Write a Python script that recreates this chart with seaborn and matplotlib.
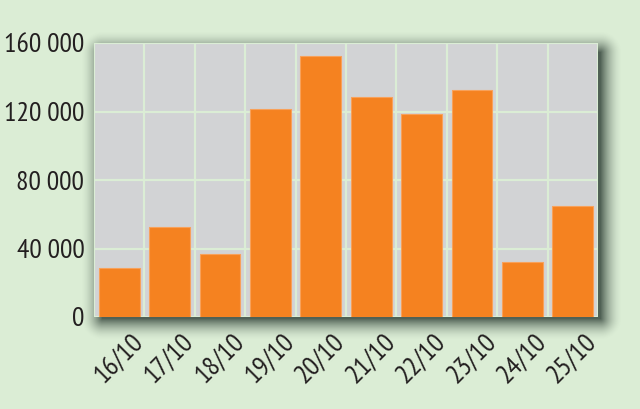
import numpy as np
import pandas as pd
import matplotlib
matplotlib.use('Agg')
import matplotlib.pyplot as plt
import seaborn as sns
from matplotlib.ticker import FixedLocator

# data
dates = ['16/10', '17/10', '18/10', '19/10', '20/10',
         '21/10', '22/10', '23/10', '24/10', '25/10']
values = [28500, 52400, 36500, 121700, 152500,
          128500, 118800, 132300, 32400, 64600]
y_ticks = [0, 40000, 80000, 120000, 160000]
y_labels = ['0', '40 000', '80 000', '120 000', '160 000']

bg = '#dbedd5'
panel = '#d2d3d5'
orange = '#f58220'

sns.set_theme(style='whitegrid', rc={
    'figure.facecolor': bg,
    'axes.facecolor': panel,
    'grid.color': bg,
    'grid.linewidth': 1.6,
    'axes.edgecolor': panel,
})
plt.rcParams['font.family'] = ['PT Sans Narrow', 'Liberation Sans', 'DejaVu Sans']

W, H = 640, 409
fig = plt.figure(figsize=(W / 100, H / 100), dpi=100)
# axes box in pixels: left 94, right 598, top 43, bottom 317
ax = fig.add_axes([94 / W, (H - 317) / H, (598 - 94) / W, (317 - 43) / H])
ax.set_zorder(2)

# soft drop shadow behind the panel
yy, xx = np.mgrid[0:H, 0:W]
x0, x1, y0, y1 = 102, 600, 52, 318
dx = np.maximum(np.maximum(x0 - xx, xx - x1), 0)
dy = np.maximum(np.maximum(y0 - yy, yy - y1), 0)
d = np.hypot(dx, dy)
t = np.clip(d / 22.0, 0, 1)
alpha = 0.85 * (1 - t) ** 1.8
shadow = np.zeros((H, W, 4))
shadow[..., 0] = 55 / 255
shadow[..., 1] = 72 / 255
shadow[..., 2] = 62 / 255
shadow[..., 3] = alpha
fig.figimage(shadow, 0, 0, origin='upper', zorder=1)

df = pd.DataFrame({'date': dates, 'value': values})
sns.barplot(data=df, x='date', y='value', color=orange, width=0.81,
            saturation=1, edgecolor='#f8a15a', linewidth=0.8, ax=ax)

ax.set_xlim(-0.5, len(dates) - 0.5)
ax.set_ylim(0, 160000)
ax.set_yticks(y_ticks)
ax.set_yticklabels(y_labels)
ax.xaxis.set_minor_locator(FixedLocator(np.arange(-0.5, len(dates), 1.0)))
ax.grid(False)
ax.grid(True, axis='y', which='major')
ax.grid(True, axis='x', which='minor')
ax.set_axisbelow(True)
for s in ax.spines.values():
    s.set_visible(False)

ax.set_xlabel('')
ax.set_ylabel('')
ax.tick_params(axis='y', length=0, pad=7, labelsize=20, labelcolor='#231f20')
ax.tick_params(axis='x', which='both', length=0, pad=9, labelsize=20, labelcolor='#231f20')
plt.setp(ax.get_xticklabels(), rotation=45, ha='center')

fig.savefig('out.png', dpi=100, facecolor=bg)
